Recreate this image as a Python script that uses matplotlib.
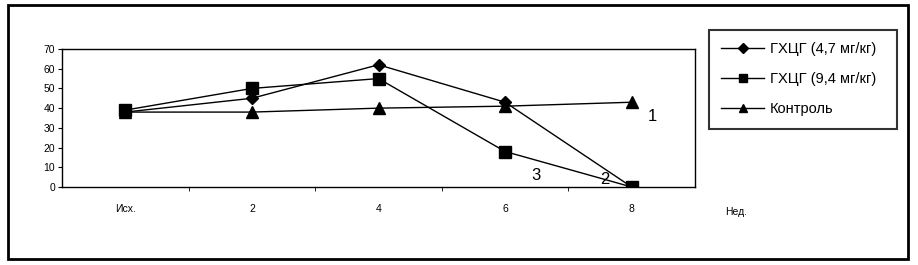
import matplotlib
matplotlib.use("Agg")
import matplotlib.pyplot as plt
from matplotlib.patches import Rectangle

plt.rcParams['font.family'] = ['Liberation Sans', 'DejaVu Sans']

categories = ['Исх.', '2', '4', '6', '8']
dose_47 = [38, 45, 62, 43, 0]
dose_94 = [39, 50, 55, 18, 0]
control = [38, 38, 40, 41, 43]

W, H = 918, 265
fig = plt.figure(figsize=(W / 100, H / 100), dpi=100)

# outer chart frame
fig.patches.append(Rectangle((8 / W, 1 - 259 / H), 900 / W, 254 / H,
                             transform=fig.transFigure, fill=False,
                             edgecolor='black', linewidth=2))

ax = fig.add_axes([62 / W, 1 - 187 / H, (695 - 62) / W, (187 - 49) / H])
x = list(range(len(categories)))
ax.plot(x, dose_47, color='black', lw=1, marker='D', ms=6, label='ГХЦГ (4,7 мг/кг)')
ax.plot(x, dose_94, color='black', lw=1, marker='s', ms=8, label='ГХЦГ (9,4 мг/кг)')
ax.plot(x, control, color='black', lw=1, marker='^', ms=8, label='Контроль')

ax.set_xlim(-0.5, len(categories) - 0.5)
ax.set_ylim(0, 70)
ax.set_yticks(range(0, 71, 10))
ax.set_xticks(x)
ax.set_xticklabels(categories)
ax.set_xticks([i + 0.5 for i in range(len(categories) - 1)], minor=True)
ax.tick_params(axis='x', which='major', length=0, labelsize=7.5, pad=12)
ax.tick_params(axis='x', which='minor', length=3, direction='out')
ax.tick_params(axis='y', length=3, direction='out', labelsize=7.5, pad=2)
for s in ax.spines.values():
    s.set_linewidth(1)
    s.set_color('black')

ax.text(4.16, 36, '1', fontsize=12, ha='center', va='center')
ax.text(3.24, 6, '3', fontsize=12, ha='center', va='center')
ax.text(3.79, 3.6, '2', fontsize=12, ha='center', va='center')

fig.text(725 / W, 1 - 212 / H, 'Нед.', fontsize=7.5, va='center')

leg = fig.legend(loc='upper left',
                 bbox_to_anchor=(709 / W, 1 - 125 / H, 188 / W, 95 / H),
                 mode='expand', borderaxespad=0, frameon=True, fancybox=False,
                 fontsize=10.5, handlelength=2.9, handletextpad=0.4,
                 markerscale=0.8, labelspacing=1.1, borderpad=0.85)
leg.get_frame().set_edgecolor('black')
leg.get_frame().set_linewidth(1.5)

fig.savefig('out.png', dpi=100)
